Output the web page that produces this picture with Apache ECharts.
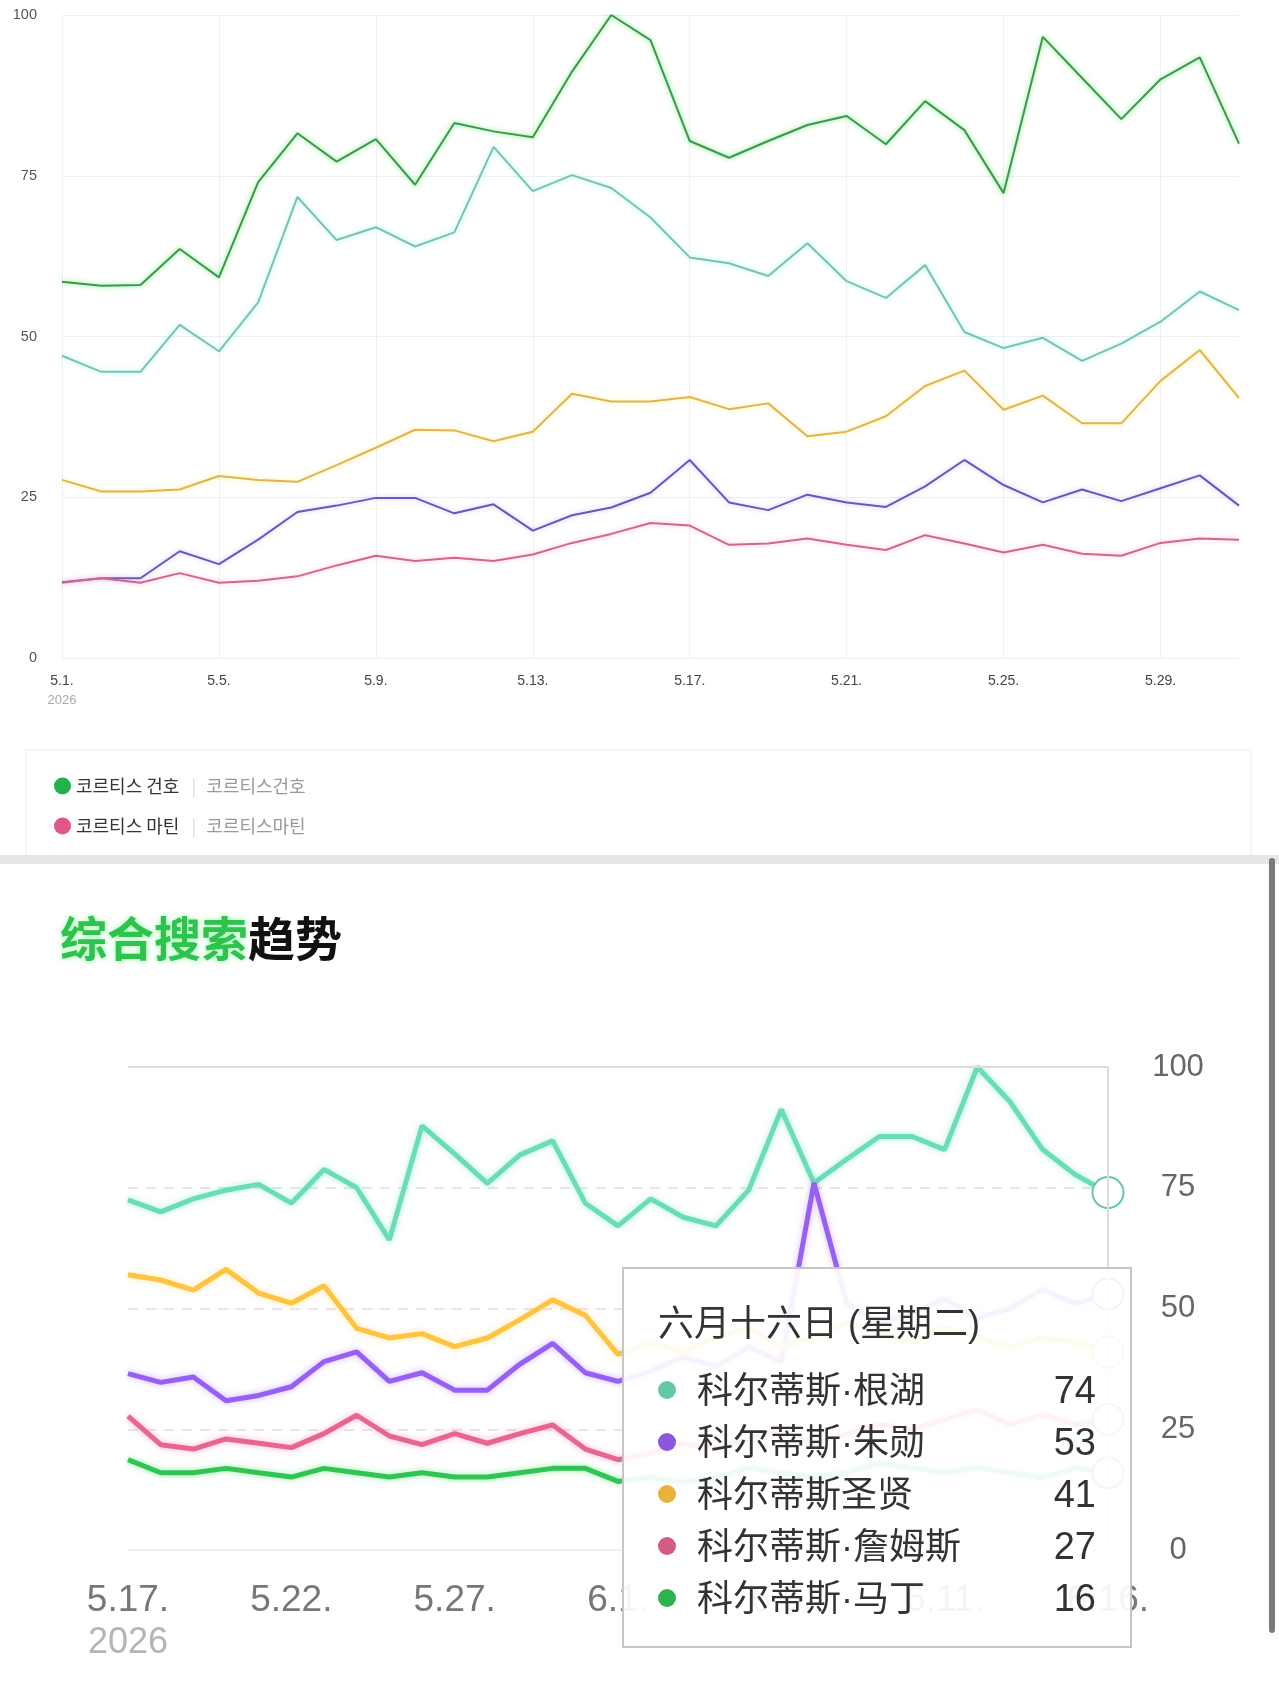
<!DOCTYPE html>
<html>
<head>
<meta charset="utf-8">
<script src="https://cdn.jsdelivr.net/npm/echarts@6.0.0/dist/echarts.min.js"></script>
<style>
html, body { margin: 0; padding: 0; background: #fff; }
#main { width: 1279px; height: 1706px; }
</style>
</head>
<body>
<div id="main"></div>
<script>
// 上图：5月每日
var topDays = ['5.1.','5.2.','5.3.','5.4.','5.5.','5.6.','5.7.','5.8.','5.9.','5.10.','5.11.','5.12.','5.13.','5.14.','5.15.','5.16.',
  '5.17.','5.18.','5.19.','5.20.','5.21.','5.22.','5.23.','5.24.','5.25.','5.26.','5.27.','5.28.','5.29.','5.30.','5.31.'];
var topGeonho = [58.5,57.9,58,63.6,59.2,74,81.6,77.2,80.7,73.6,83.2,81.9,81,91.2,100,96.1,80.4,77.8,80.4,82.9,84.3,79.9,86.6,82.1,72.3,96.6,90.2,83.8,90,93.4,80];
var topTeal   = [47,44.5,44.5,51.8,47.7,55.3,71.7,65,67,64,66.2,79.5,72.6,75.1,73.1,68.5,62.3,61.4,59.4,64.5,58.6,56,61.1,50.7,48.2,49.8,46.2,48.9,52.3,57,54.1];
var topOrange = [27.7,25.9,25.9,26.2,28.3,27.7,27.4,30,32.7,35.5,35.4,33.7,35.2,41.1,39.9,39.9,40.6,38.7,39.6,34.5,35.2,37.6,42.3,44.7,38.6,40.8,36.5,36.5,43.1,47.9,40.4];
var topPurple = [11.8,12.4,12.4,16.6,14.6,18.4,22.7,23.7,24.9,24.9,22.5,23.9,19.8,22.2,23.4,25.7,30.8,24.2,23,25.4,24.2,23.5,26.7,30.8,26.9,24.2,26.2,24.4,26.4,28.4,23.7];
var topMartin = [11.7,12.4,11.7,13.2,11.7,12,12.7,14.4,15.9,15.1,15.6,15.1,16.1,17.9,19.3,21,20.6,17.6,17.8,18.6,17.6,16.8,19.1,17.8,16.4,17.6,16.2,15.9,17.9,18.6,18.4];
var yTicks = [0, 25, 50, 75, 100];

// 下图：综合搜索趋势
var botDays = ['5.17.','5.18.','5.19.','5.20.','5.21.','5.22.','5.23.','5.24.','5.25.','5.26.','5.27.','5.28.','5.29.','5.30.','5.31.',
  '6.1.','6.2.','6.3.','6.4.','6.5.','6.6.','6.7.','6.8.','6.9.','6.10.','6.11.','6.12.','6.13.','6.14.','6.15.','6.16.'];
var botGeonho = [72.5,70,72.7,74.5,75.7,71.8,78.8,75,64.2,87.8,82,75.9,81.8,84.7,71.8,67.1,72.7,68.9,67.1,74.5,91.2,76,80.9,85.6,85.6,82.9,100,92.8,82.9,77.7,74];
var botJuhoon = [36.5,34.7,35.8,30.9,32,33.8,39,41,34.9,36.7,33.1,33.1,38.5,42.8,36.7,34.9,37,40,38,42,39,76,51,47,49,52,48,50,54,51,53];
var botSeonghyeon = [57,55.9,53.8,58.1,53.2,51.1,54.7,45.9,43.9,44.8,42.1,43.9,47.7,51.8,48.6,40.5,43,41,44,46,42,44,47,45,43,46,44,42,44,43,41];
var botJames = [27.7,21.8,20.9,23,22.1,21.2,24.1,27.9,23.6,21.8,24.1,22.1,24.1,25.9,20.9,18.7,20,22,21,23,25,22,24,26,25,27,29,26,28,26,27];
var botMartin = [18.7,16,16,16.9,16,15.1,16.9,16,15.1,16,15.1,15.1,16,16.9,16.9,14.2,15,14,15,17,16,15,16,18,17,16,17,16,15,17,16];
var tipTitle = '六月十六日 (星期二)';

var latin = '"Liberation Sans", Arial, sans-serif';

function topLine(name, data, color, glow) {
  return {
    name: name, type: 'line', xAxisIndex: 0, yAxisIndex: 0, data: data,
    symbol: 'none', showSymbol: false, silent: true,
    lineStyle: { color: color, width: 2, shadowColor: glow, shadowBlur: 5 },
    itemStyle: { color: color },
    emphasis: { disabled: true }
  };
}
function botLine(name, data, color, glow) {
  return {
    name: name, type: 'line', xAxisIndex: 1, yAxisIndex: 1, data: data,
    symbol: 'emptyCircle', symbolSize: 31, showSymbol: false,
    lineStyle: { color: color, width: 5, shadowColor: glow, shadowBlur: 6 },
    itemStyle: { color: color, borderWidth: 5 },
    emphasis: { scale: false, lineStyle: { width: 5 } }
  };
}

var myChart = echarts.init(document.getElementById('main'));

var seriesList = [
  topLine('코르티스 건호', topGeonho, '#3a9850', 'rgba(60,230,60,0.7)'),
  topLine('코르티스 주훈', topTeal, '#76c4b3', 'rgba(120,240,220,0.6)'),
  topLine('코르티스 성현', topOrange, '#e0b54e', 'rgba(255,220,80,0.6)'),
  topLine('코르티스 제임스', topPurple, '#6659bd', 'rgba(150,120,255,0.45)'),
  topLine('코르티스 마틴', topMartin, '#d2668d', 'rgba(255,120,170,0.45)'),
  botLine('科尔蒂斯·根湖', botGeonho, '#62c8a9', 'rgba(100,230,190,0.5)'),
  botLine('科尔蒂斯·朱勋', botJuhoon, '#8a58dc', 'rgba(160,110,255,0.5)'),
  botLine('科尔蒂斯圣贤', botSeonghyeon, '#e8b23c', 'rgba(255,210,80,0.5)'),
  botLine('科尔蒂斯·詹姆斯', botJames, '#d25c86', 'rgba(255,110,160,0.5)'),
  botLine('科尔蒂斯·马丁', botMartin, '#2db34d', 'rgba(60,230,90,0.5)')
];
// 100 的实线
seriesList[5].markLine = {
  silent: true, symbol: 'none', label: { show: false },
  lineStyle: { color: '#dcdcdc', type: 'solid', width: 2 },
  emphasis: { disabled: true },
  data: [{ yAxis: yTicks[4] }]
};

var option = {
  animation: false,
  backgroundColor: '#fff',
  title: {
    left: 55, top: 910,
    text: '{g|综合搜索}{k|趋势}',
    textStyle: {
      rich: {
        g: { color: '#2ec24f', fontSize: 47, fontWeight: 'bold', fontFamily: 'Noto Sans CJK SC',
             textShadowColor: 'rgba(80,255,100,0.5)', textShadowBlur: 6 },
        k: { color: '#111', fontSize: 47, fontWeight: 'bold', fontFamily: 'Noto Sans CJK SC' }
      }
    }
  },
  legend: {
    data: [
      { name: '코르티스 건호', itemStyle: { color: '#22b14c' } },
      { name: '코르티스 마틴', itemStyle: { color: '#e0578b' } }
    ],
    orient: 'vertical', left: 54, top: 777, padding: 0,
    itemGap: 22, itemWidth: 17, itemHeight: 17, icon: 'circle', selectedMode: false,
    textStyle: {
      fontFamily: 'Noto Sans CJK KR', fontSize: 18, color: '#333',
      rich: {
        s: { color: '#ddd', fontSize: 18, padding: [0, 10, 0, 8] },
        a: { color: '#999', fontSize: 18, fontFamily: 'Noto Sans CJK KR' }
      }
    },
    formatter: function (n) { return n + ' {s||}{a|' + n.replace(' ', '') + '}'; }
  },
  grid: [
    { left: 62, right: 40, top: 15, height: 643 },
    { left: 128, right: 171, top: 1067, height: 483 }
  ],
  xAxis: [
    {
      gridIndex: 0, type: 'category', data: topDays, boundaryGap: false,
      axisLine: { show: false }, axisTick: { show: false },
      splitLine: { show: true, interval: 3, lineStyle: { color: '#f0f0f0' } },
      axisLabel: {
        interval: 3, margin: 14, color: '#444', fontSize: 14, fontFamily: latin, lineHeight: 19,
        formatter: function (v, i) { return i === 0 ? v + '\n{y|2026}' : v; },
        rich: { y: { color: '#aaa', fontSize: 13, fontFamily: latin, lineHeight: 19 } }
      }
    },
    {
      gridIndex: 1, type: 'category', data: botDays, boundaryGap: false,
      axisLine: { show: true, lineStyle: { color: '#eeeeee', width: 2 } }, axisTick: { show: false },
      axisLabel: {
        interval: 4, margin: 30, color: '#777', fontSize: 37, fontFamily: latin, lineHeight: 42,
        formatter: function (v, i) { return i === 0 ? v + '\n{y|2026}' : v; },
        rich: { y: { color: '#b5b5b5', fontSize: 36, fontFamily: latin, lineHeight: 42 } }
      }
    }
  ],
  yAxis: [
    {
      gridIndex: 0, type: 'value', min: 0, max: 100, interval: 25,
      axisLine: { show: false }, axisTick: { show: false },
      splitLine: { lineStyle: { color: '#eeeeee' } },
      axisLabel: { margin: 25, color: '#555', fontSize: 14.5, fontFamily: latin }
    },
    {
      gridIndex: 1, type: 'value', position: 'right', min: 0, max: 100, interval: 25,
      axisLine: { show: false }, axisTick: { show: false },
      splitLine: { lineStyle: { color: '#e6e6e6', type: [10, 8], width: 2 } },
      axisLabel: { margin: 70, align: 'center', color: '#666', fontSize: 31, fontFamily: latin }
    }
  ],
  tooltip: {
    trigger: 'axis',
    triggerOn: 'none',
    alwaysShowContent: true,
    transitionDuration: 0,
    backgroundColor: 'rgba(255,255,255,0.92)',
    borderColor: '#c6c6c6',
    borderWidth: 2,
    padding: [30, 34, 22, 34],
    extraCssText: 'width:438px;box-shadow:none;border-radius:0;',
    textStyle: { fontFamily: 'Noto Sans CJK SC', color: '#333' },
    axisPointer: { type: 'line', lineStyle: { color: '#dcdcdc', width: 2, type: 'solid' }, label: { show: false } },
    position: function () { return [622, 1267]; },
    formatter: function (params) {
      var html = '<div style="font-size:36px;line-height:50px;color:#333;margin-bottom:15px;font-family:\'Liberation Sans\',\'Noto Sans CJK SC\';">' + tipTitle + '</div>';
      params.forEach(function (p) {
        html += '<div style="display:flex;align-items:center;height:52px;">' +
          '<span style="display:inline-block;width:18px;height:18px;border-radius:9px;background:' + p.color + ';margin-right:21px;"></span>' +
          '<span style="flex:1;font-size:36px;color:#333;font-family:\'Liberation Sans\',\'Noto Sans CJK SC\';">' + p.seriesName + '</span>' +
          '<span style="font-size:38px;color:#333;font-family:\'Liberation Sans\',sans-serif;">' + Math.round(p.value) + '</span></div>';
      });
      return html;
    }
  },
  graphic: [
    { type: 'rect', z: -10, shape: { x: 26, y: 750, width: 1225, height: 110 }, style: { fill: '#fff', stroke: '#ececec', lineWidth: 1 } },
    { type: 'rect', z: 100, shape: { x: 0, y: 855, width: 1279, height: 9 }, style: { fill: '#e5e5e5' } },
    { type: 'rect', z: 100, shape: { x: 1269, y: 858, width: 6, height: 775, r: 3 }, style: { fill: '#7a7a7a' } }
  ],
  series: seriesList
};

myChart.setOption(option);
myChart.dispatchAction({ type: 'showTip', seriesIndex: 5, dataIndex: botDays.length - 1 });
</script>
</body>
</html>
